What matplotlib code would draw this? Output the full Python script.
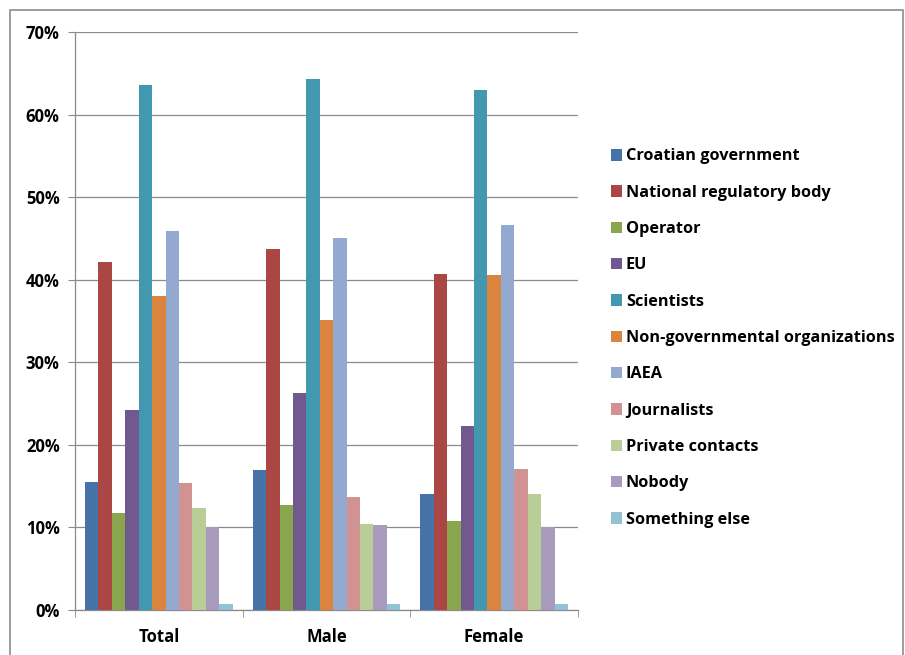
import matplotlib
matplotlib.use("Agg")
import matplotlib.pyplot as plt
import numpy as np
from matplotlib.patches import Rectangle
from matplotlib.ticker import FuncFormatter

groups = ["Total", "Male", "Female"]
series = ["Croatian government", "National regulatory body", "Operator", "EU",
          "Scientists", "Non-governmental organizations", "IAEA", "Journalists",
          "Private contacts", "Nobody", "Something else"]
total = [15.5, 42.1, 11.7, 24.2, 63.6, 38.0, 45.9, 15.4, 12.4, 10.1, 0.75]
male = [16.9, 43.7, 12.7, 26.3, 64.3, 35.1, 45.1, 13.7, 10.4, 10.3, 0.75]
female = [14.1, 40.7, 10.8, 22.3, 63.0, 40.6, 46.6, 17.1, 14.1, 10.0, 0.75]
colors = ["#4572A7", "#AA4643", "#89A54E", "#71588F", "#4198AF", "#DB843D",
          "#93A9CF", "#D19392", "#B9CD96", "#A99BBD", "#92C3D4"]

values = np.array([total, male, female])

plt.rcParams["font.family"] = ["Open Sans", "DejaVu Sans"]

fig = plt.figure(figsize=(9.05, 6.55), dpi=100)
fig.patches.append(Rectangle((10 / 905, -0.01), 893 / 905, 1 - 10 / 655 + 0.01,
                             transform=fig.transFigure, fill=False,
                             edgecolor="#8c8c8c", linewidth=1.2))

ax = fig.add_axes([75 / 905, 1 - 610 / 655, 503 / 905, 578 / 655])

n = len(series)
gap = 1.5
w = 1.0 / (n + gap)
x = np.arange(len(groups))
for i, (name, c) in enumerate(zip(series, colors)):
    offs = (i - (n - 1) / 2) * w
    ax.bar(x + offs, values[:, i], width=w, color=c, label=name,
           edgecolor="none", zorder=3)

ax.set_xlim(-0.5, len(groups) - 0.5)
ax.set_ylim(0, 70)
ax.set_yticks(np.arange(0, 71, 10))
ax.yaxis.set_major_formatter(FuncFormatter(lambda v, p: f"{int(v)}%"))
ax.yaxis.grid(True, color="#8a8a8a", linewidth=0.9, zorder=0)
ax.set_xticks(x)
ax.set_xticklabels(groups)
ax.set_xticks(np.arange(-0.5, len(groups), 1), minor=True)
ax.tick_params(axis="x", which="major", length=0, pad=13)
ax.tick_params(axis="x", which="minor", length=5, color="#8a8a8a", direction="out")
ax.tick_params(axis="y", length=5, color="#8a8a8a", direction="out", pad=6)
for lab in ax.get_xticklabels() + ax.get_yticklabels():
    lab.set_fontweight("bold")
    lab.set_fontsize(12)
for s in ["top", "right"]:
    ax.spines[s].set_visible(False)
for s in ["left", "bottom"]:
    ax.spines[s].set_color("#8a8a8a")
    ax.spines[s].set_linewidth(0.9)

leg = fig.legend(loc="upper left", bbox_to_anchor=(604 / 905, 1 - 142 / 655),
                 frameon=False, prop={"weight": "bold", "size": 11.7},
                 handlelength=0.7, handleheight=0.7, handletextpad=0.25,
                 labelspacing=1.25, borderaxespad=0)

fig.savefig("out.png", dpi=100)
